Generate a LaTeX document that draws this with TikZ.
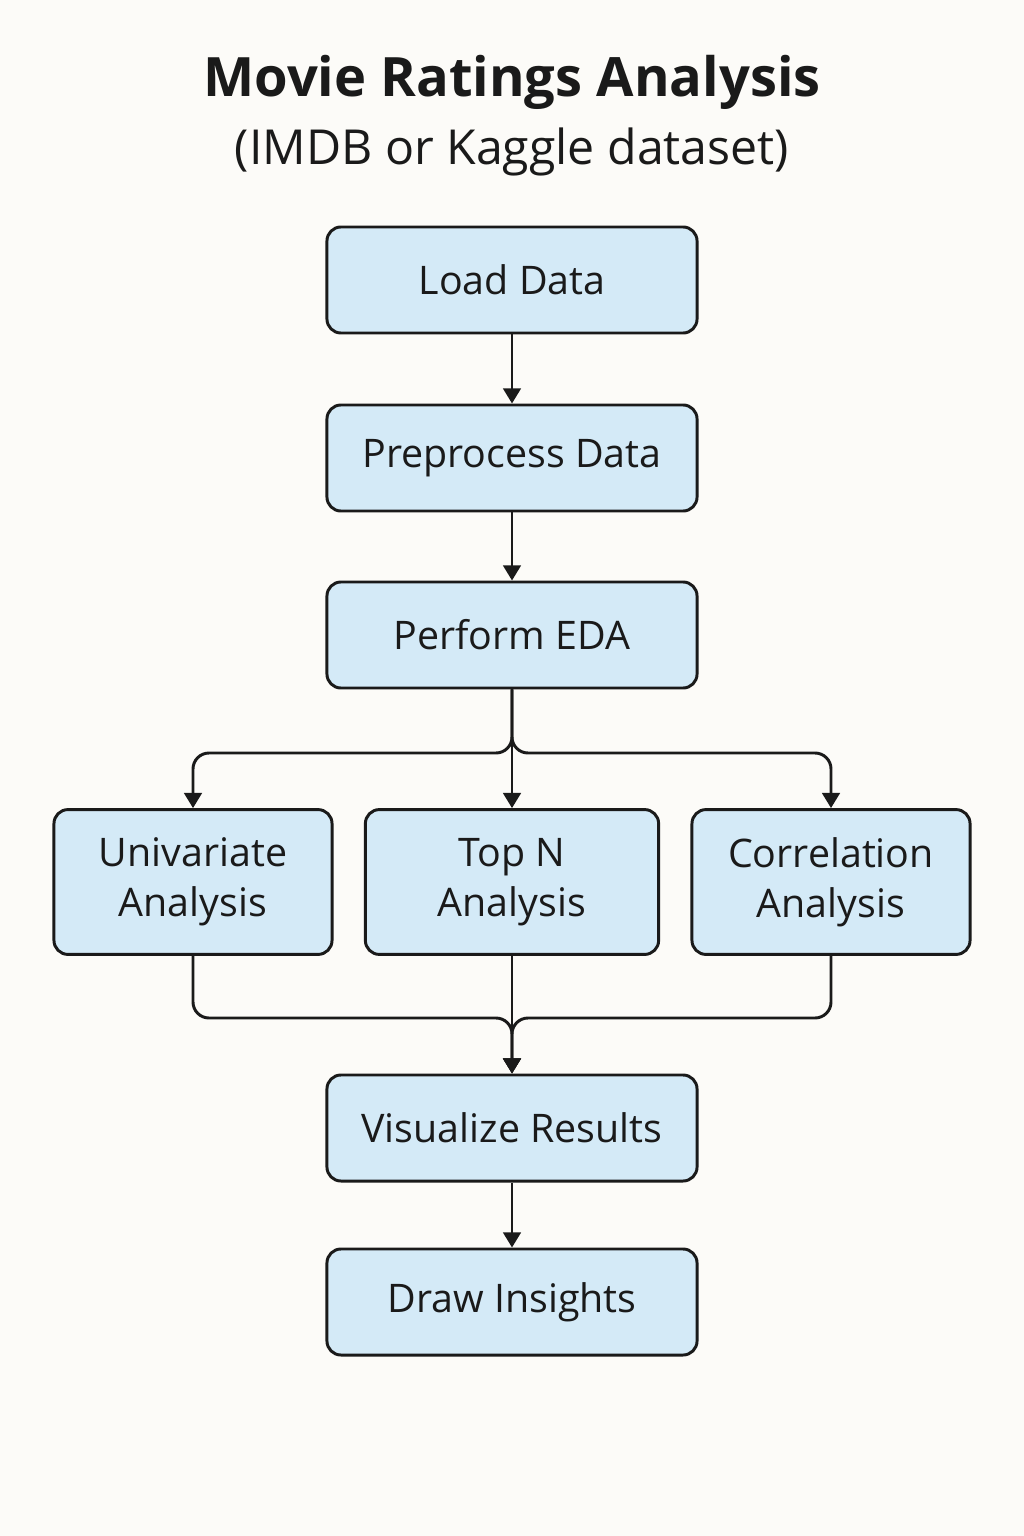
\documentclass[tikz,border=0pt]{standalone}
\usepackage{fontspec}
\setmainfont{Open Sans}
\usepackage{tikz}
\usetikzlibrary{arrows.meta}
\definecolor{boxblue}{RGB}{212,234,247}
\definecolor{paper}{RGB}{252,251,248}
\definecolor{ink}{RGB}{26,26,26}
\tikzstyle{box} = [draw=ink, fill=boxblue, rounded corners=0.35cm,
    line width=2.1pt, align=center, text=ink,
    font=\fontsize{28}{35.5}\selectfont]
\tikzstyle{mainbox} = [box, minimum width=9.25cm, minimum height=2.65cm]
\tikzstyle{sidebox} = [box, minimum width=6.95cm, minimum height=3.62cm]
\tikzstyle{link} = [->, draw=ink, line width=2.1pt, rounded corners=0.4cm]
\tikzset{>={Triangle[length=3.8mm,width=4.4mm]}}

\begin{document}
\begin{tikzpicture}[x=0.025cm,y=-0.025cm]
    %page
    \fill[paper] (0,0) rectangle (1024,1536);
    \useasboundingbox (0,0) rectangle (1024,1536);
    %title
    \node[text=ink, font=\fontsize{38.6}{46}\selectfont\bfseries] (title) at (512,82) {Movie Ratings Analysis};
    \node[text=ink, font=\fontsize{34.3}{42}\selectfont] (sub) at (512,152) {(IMDB or Kaggle dataset)};
    %nodes
    \node[mainbox] (load) at (512,280) {Load Data};
    \node[mainbox] (prep) at (512,458) {Preprocess Data};
    \node[mainbox] (eda) at (512,635) {Perform EDA};
    \node[sidebox] (uni) at (193,882) {Univariate\\Analysis};
    \node[sidebox, minimum width=7.33cm] (topn) at (512,882) {Top N\\Analysis};
    \node[sidebox] (corr) at (831,882) {Correlation\\Analysis};
    \node[mainbox] (vis) at (512,1128) {Visualize Results};
    \node[mainbox] (ins) at (512,1302) {Draw Insights};
    %branch points
    \coordinate (split) at (512,753);
    \coordinate (join) at (512,1018);
    %arrows
    \draw[link] (load) -- (prep);
    \draw[link] (prep) -- (eda);
    \draw[link] (eda.south) -- (split) -| (uni.north);
    \draw[link] (eda.south) -- (split) -| (corr.north);
    \draw[link] (eda) -- (topn);
    \draw[link] (uni.south) |- (join) -- (vis.north);
    \draw[link] (corr.south) |- (join) -- (vis.north);
    \draw[link] (topn) -- (vis);
    \draw[link] (vis) -- (ins);
\end{tikzpicture}
\end{document}
